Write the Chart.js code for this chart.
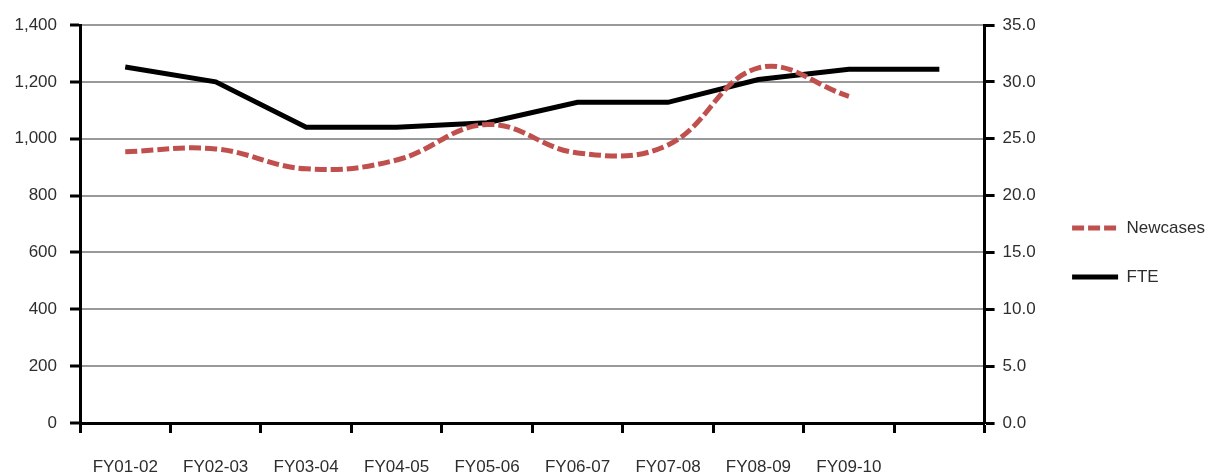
<!DOCTYPE html>
<html>
<head>
<meta charset="utf-8">
<script src="https://cdn.jsdelivr.net/npm/chart.js@4.4.1/dist/chart.umd.min.js"></script>
<style>
  html, body { margin: 0; padding: 0; background: #ffffff; }
  #wrap { width: 1219px; height: 474px; }
</style>
</head>
<body>
<div id="wrap"><canvas id="chart" width="1219" height="474"></canvas></div>
<script>
// Fiscal years on the category axis (last slot has no label)
const categories = ['FY01-02', 'FY02-03', 'FY03-04', 'FY04-05', 'FY05-06',
                    'FY06-07', 'FY07-08', 'FY08-09', 'FY09-10', ''];

// New cases per year (left axis)
const newcases = [954, 964, 894, 925, 1050, 950, 978, 1249, 1149, null];

// Full-time equivalent staff (right axis)
const fte = [31.3, 30.0, 26.0, 26.0, 26.4, 28.2, 28.2, 30.2, 31.1, 31.1];

// Axis ranges and tick spacing
const leftTicks = { min: 0, max: 1400, step: 200 };
const rightTicks = { min: 0, max: 35, step: 5 };

Chart.defaults.font.family = '"Liberation Sans", Arial, sans-serif';
Chart.defaults.font.size = 17;
Chart.defaults.color = '#2e2e2e';

new Chart(document.getElementById('chart'), {
  type: 'line',
  data: {
    labels: categories,
    datasets: [
      {
        label: 'Newcases',
        data: newcases,
        yAxisID: 'y',
        borderColor: '#c0504d',
        backgroundColor: '#c0504d',
        borderWidth: 5,
        borderDash: [12, 4],
        tension: 0.4,
        pointRadius: 0,
        pointHoverRadius: 0,
        fill: false
      },
      {
        label: 'FTE',
        data: fte,
        yAxisID: 'y1',
        borderColor: '#000000',
        backgroundColor: '#000000',
        borderWidth: 5,
        tension: 0,
        pointRadius: 0,
        pointHoverRadius: 0,
        fill: false
      }
    ]
  },
  options: {
    responsive: false,
    animation: false,
    devicePixelRatio: 1,
    layout: { padding: { top: 25, right: 4, bottom: 0, left: 0 } },
    plugins: {
      tooltip: { enabled: false },
      legend: {
        position: 'right',
        align: 'center',
        // empty title only nudges the legend rows down a little
        title: { display: true, text: '', font: { size: 1 }, padding: { top: 0, bottom: 4.8 } },
        labels: {
          usePointStyle: true,
          pointStyle: 'line',
          pointStyleWidth: 46,
          padding: 32,
          color: '#2e2e2e',
          font: { size: 17 },
          // legend swatches take the line's own dash and width
          generateLabels: (chart) => {
            const items = Chart.defaults.plugins.legend.labels.generateLabels(chart);
            items.forEach((it) => {
              const ds = chart.data.datasets[it.datasetIndex];
              it.lineDash = ds.borderDash || [];
              it.lineWidth = ds.borderWidth;
              it.strokeStyle = ds.borderColor;
            });
            return items;
          }
        }
      }
    },
    scales: {
      x: {
        type: 'category',
        offset: true,
        grid: {
          display: true,
          drawOnChartArea: false,
          offset: true,
          tickLength: 10,
          tickColor: '#000000',
          tickWidth: 3
        },
        border: { display: true, color: '#000000', width: 3 },
        ticks: { padding: 24, maxRotation: 0, autoSkip: false, color: '#2e2e2e' },
        afterFit: (s) => { s.height = 51; }
      },
      y: {
        position: 'left',
        min: leftTicks.min,
        max: leftTicks.max,
        ticks: {
          stepSize: leftTicks.step,
          padding: 13,
          color: '#2e2e2e',
          callback: (v) => Number(v).toLocaleString('en-US')
        },
        grid: {
          color: '#999999',
          lineWidth: 2,
          tickColor: '#000000',
          tickLength: 10,
          tickWidth: 3
        },
        border: { display: true, color: '#000000', width: 3 },
        afterFit: (s) => { s.width = 80; }
      },
      y1: {
        position: 'right',
        min: rightTicks.min,
        max: rightTicks.max,
        ticks: {
          stepSize: rightTicks.step,
          padding: 8,
          color: '#2e2e2e',
          callback: (v) => Number(v).toFixed(1)
        },
        grid: {
          drawOnChartArea: false,
          tickColor: '#000000',
          tickLength: 10,
          tickWidth: 3
        },
        border: { display: true, color: '#000000', width: 3 },
        afterFit: (s) => { s.width = 55.5; }
      }
    }
  }
});
</script>
</body>
</html>
